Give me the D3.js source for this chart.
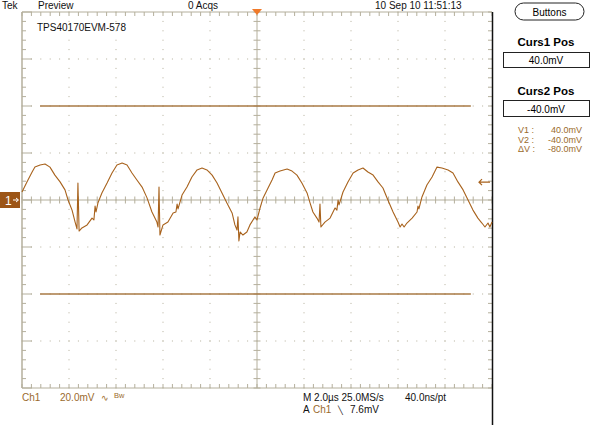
<!DOCTYPE html>
<html><head><meta charset="utf-8">
<script src="https://cdn.jsdelivr.net/npm/d3@7"></script>
<style>
html,body{margin:0;padding:0;background:#fff;}
svg{display:block;font-family:"Liberation Sans",Arial,sans-serif;}
</style></head>
<body>
<svg id="c" width="599" height="425"></svg>
<script>
// ---- data ----
const timeDivisions = [0, 2, 4, 6, 8, 10, 12, 14, 16, 18, 20];          // µs
const voltDivisions = [-80, -60, -40, -20, 0, 20, 40, 60, 80];          // mV
const cursorLevels = [40, -40];                                         // mV
const triggerLevel = 7.6;                                               // mV
const traceTime = [0.00,0.21,0.43,0.55,0.77,0.98,1.19,1.40,1.62,1.83,1.96,2.13,2.26,2.34,2.38,2.43,2.55,2.77,2.98,3.06,3.11,3.15,3.23,3.40,3.62,3.83,4.04,4.26,4.47,4.68,4.89,5.11,5.32,5.53,5.74,5.79,5.83,5.87,6.00,6.21,6.43,6.55,6.60,6.64,6.81,7.02,7.23,7.45,7.66,7.87,8.09,8.30,8.51,8.72,8.94,9.06,9.15,9.19,9.23,9.28,9.40,9.57,9.70,9.91,10.00,10.13,10.26,10.47,10.64,10.77,10.98,11.28,11.49,11.70,11.91,12.13,12.26,12.38,12.55,12.64,12.68,12.72,12.89,13.11,13.32,13.40,13.45,13.49,13.66,13.87,14.09,14.30,14.51,14.72,14.94,15.15,15.36,15.57,15.79,16.00,16.09,16.17,16.26,16.38,16.60,16.81,16.85,16.89,17.02,17.23,17.45,17.66,17.87,18.13,18.34,18.55,18.77,18.98,19.19,19.40,19.57,19.70,19.83,19.91,20.00];
const traceVolt = [3.4,7.7,11.9,14.0,14.9,15.3,14.0,10.6,7.7,4.3,0,-4.3,-9.4,-12.3,7.2,-13.2,-11.9,-10.6,-7.7,-8.5,-2.6,-5.1,-1.3,3.0,7.2,11.5,14.9,15.7,14.9,11.5,8.5,5.5,0.9,-5.1,-9.4,-11.5,5.5,-14.9,-10.6,-9.4,-5.5,-5.1,-1.7,-3.8,2.1,5.5,9.8,12.8,13.6,12.8,10.6,7.2,3.0,-1.3,-5.5,-10.6,-12.8,-7.2,-17.4,-13.6,-14.9,-13.6,-10.6,-7.2,-8.5,-3.4,0.9,5.1,8.5,11.5,12.3,13.2,12.3,10.6,7.2,3.0,-1.3,-5.1,-7.7,-9.4,-1.7,-11.5,-9.4,-7.7,-3.4,-4.3,0,-2.1,3.4,7.7,11.5,12.8,13.6,11.9,10.6,7.7,5.1,0,-5.1,-9.4,-11.5,-10.2,-11.5,-9.8,-7.7,-5.1,-2.6,-3.8,1.3,6.4,9.8,14.0,13.6,12.8,11.5,7.7,4.3,0,-4.3,-7.7,-9.8,-11.5,-9.8,-11.5,-9.4];

const svg = d3.select("#c");
const x = d3.scaleLinear().domain([0, 20]).range([22, 492]);
const y = d3.scaleLinear().domain([-80, 80]).range([388, 12]);
const GR = "#b4af9c", BR = "#a8621c", TXT = "#9a6a2c";

const g = svg.append("g");
const minorT = d3.range(0, 20.001, 0.4);
const minorV = d3.range(-80, 80.001, 4);

// dotted grid
timeDivisions.slice(1, -1).forEach(t => {
  if (t === 10) return;
  g.selectAll(null).data(minorV).join("rect")
    .attr("x", x(t) - 0.5).attr("y", d => y(d) - 0.5).attr("width", 1).attr("height", 1).attr("fill", GR);
});
voltDivisions.slice(1, -1).forEach(v => {
  if (v === 0) return;
  g.selectAll(null).data(minorT).join("rect")
    .attr("x", d => x(d) - 0.5).attr("y", y(v) - 0.5).attr("width", 1).attr("height", 1).attr("fill", GR);
});
// center axes
g.append("line").attr("x1", x(0)).attr("x2", x(20)).attr("y1", y(0)).attr("y2", y(0)).attr("stroke", GR);
g.append("line").attr("x1", x(10)).attr("x2", x(10)).attr("y1", y(80)).attr("y2", y(-80)).attr("stroke", GR);
g.selectAll(null).data(minorT).join("line")
  .attr("x1", d => x(d)).attr("x2", d => x(d)).attr("y1", y(0) - 3.5).attr("y2", y(0) + 3.5).attr("stroke", GR);
g.selectAll(null).data(minorV).join("line")
  .attr("x1", x(10) - 3.5).attr("x2", x(10) + 3.5).attr("y1", d => y(d)).attr("y2", d => y(d)).attr("stroke", GR);
// border
g.append("line").attr("x1", x(0)).attr("x2", x(20)).attr("y1", y(80)).attr("y2", y(80)).attr("stroke", GR);
g.append("line").attr("x1", x(0)).attr("x2", x(20)).attr("y1", y(-80)).attr("y2", y(-80)).attr("stroke", GR);
g.append("line").attr("x1", x(0)).attr("x2", x(0)).attr("y1", y(80)).attr("y2", y(-80)).attr("stroke", GR).attr("stroke-width", 1.5);
// border ticks
g.selectAll(null).data(minorT).join("line")
  .attr("x1", d => x(d)).attr("x2", d => x(d)).attr("y1", y(80)).attr("y2", y(80) + 4).attr("stroke", GR);
g.selectAll(null).data(minorT).join("line")
  .attr("x1", d => x(d)).attr("x2", d => x(d)).attr("y1", y(-80)).attr("y2", y(-80) - 4).attr("stroke", GR);
g.selectAll(null).data(minorV).join("line")
  .attr("x1", x(0)).attr("x2", d => x(0) + (d % 20 === 0 ? 10 : 4)).attr("y1", d => y(d)).attr("y2", d => y(d)).attr("stroke", GR);
g.selectAll(null).data(minorV).join("line")
  .attr("x1", x(20)).attr("x2", x(20) - 4).attr("y1", d => y(d)).attr("y2", d => y(d)).attr("stroke", GR);
// right black frame
svg.append("line").attr("x1", x(20) + 0.5).attr("x2", x(20) + 0.5).attr("y1", y(80)).attr("y2", 425).attr("stroke", "#111").attr("stroke-width", 1.5);

// cursors
svg.selectAll(null).data(cursorLevels).join("line")
  .attr("x1", x(0.77)).attr("x2", x(19.1)).attr("y1", d => y(d)).attr("y2", d => y(d))
  .attr("stroke", "#a87a45").attr("stroke-width", 1.5);

// trace
const pts = traceTime.map((t, i) => [t, traceVolt[i]]);
svg.append("path").datum(pts)
  .attr("d", d3.line().x(d => x(d[0])).y(d => y(d[1])))
  .attr("fill", "none").attr("stroke", BR).attr("stroke-width", 1.1).attr("stroke-linejoin", "round");

// channel marker
svg.append("rect").attr("x", 0).attr("y", y(0) - 8).attr("width", 20).attr("height", 16).attr("fill", "#9c5516");
svg.append("text").attr("x", 5).attr("y", y(0) + 4.5).attr("fill", "#fff").attr("font-size", 12).text("1");
svg.append("path").attr("d", `M13,${y(0)} L18,${y(0)} M16,${y(0)-2} L18.5,${y(0)} L16,${y(0)+2}`).attr("stroke", "#fff").attr("fill", "none");
// trigger level arrow
const ty = y(triggerLevel);
svg.append("path").attr("d", `M479,${ty} L490,${ty} M482,${ty-3} L479,${ty} L482,${ty+3}`).attr("stroke", BR).attr("stroke-width", 1.2).attr("fill", "none");
// trigger position marker
svg.append("path").attr("d", `M${x(10)-5},${y(80)-3} L${x(10)+5},${y(80)-3} L${x(10)},${y(80)+3} Z`).attr("fill", "#f07a2a");

// top texts
const hdr = svg.append("g").attr("font-size", 10).attr("fill", "#111");
hdr.append("text").attr("x", 2).attr("y", 9).text("Tek");
hdr.append("text").attr("x", 38).attr("y", 9).text("Preview");
hdr.append("text").attr("x", 188).attr("y", 9).text("0 Acqs");
hdr.append("text").attr("x", 375).attr("y", 9).text("10 Sep 10 11:51:13");
hdr.append("text").attr("x", 37).attr("y", 31).text("TPS40170EVM-578");
// Buttons pill
svg.append("rect").attr("x", 515).attr("y", 3).attr("width", 69).attr("height", 17).attr("rx", 8.5).attr("fill", "#fff").attr("stroke", "#222");
svg.append("text").attr("x", 549.5).attr("y", 15.5).attr("text-anchor", "middle").attr("font-size", 10).text("Buttons");

// right panel
const rp = svg.append("g");
rp.append("text").attr("x", 546).attr("y", 46).attr("text-anchor", "middle").attr("font-size", 11.5).attr("font-weight", "bold").text("Curs1 Pos");
rp.append("rect").attr("x", 503.5).attr("y", 52.5).attr("width", 86).attr("height", 15).attr("fill", "none").attr("stroke", "#222");
rp.append("text").attr("x", 546).attr("y", 64).attr("text-anchor", "middle").attr("font-size", 10).text("40.0mV");
rp.append("text").attr("x", 546).attr("y", 95).attr("text-anchor", "middle").attr("font-size", 11.5).attr("font-weight", "bold").text("Curs2 Pos");
rp.append("rect").attr("x", 503.5).attr("y", 100.5).attr("width", 86).attr("height", 16).attr("fill", "none").attr("stroke", "#222");
rp.append("text").attr("x", 546).attr("y", 112.5).attr("text-anchor", "middle").attr("font-size", 10).text("-40.0mV");
const rows = [["V1 :", "40.0mV"], ["V2 :", "-40.0mV"], ["\u0394V :", "-80.0mV"]];
rows.forEach((r, i) => {
  rp.append("text").attr("x", 518).attr("y", 133 + i * 9.5).attr("font-size", 9).attr("fill", TXT).text(r[0]);
  rp.append("text").attr("x", 582).attr("y", 133 + i * 9.5).attr("text-anchor", "end").attr("font-size", 9).attr("fill", TXT).text(r[1]);
});

// bottom texts
const bt = svg.append("g").attr("font-size", 10);
bt.append("text").attr("x", 22).attr("y", 401).attr("fill", TXT).text("Ch1");
bt.append("text").attr("x", 60).attr("y", 401).attr("fill", TXT).text("20.0mV");
bt.append("text").attr("x", 101).attr("y", 401).attr("fill", TXT).attr("font-size", 9).text("\u223F");
bt.append("text").attr("x", 114).attr("y", 398).attr("fill", TXT).attr("font-size", 7.5).text("Bw");
bt.append("text").attr("x", 303).attr("y", 401).attr("fill", "#111").text("M 2.0\u00B5s 25.0MS/s");
bt.append("text").attr("x", 405).attr("y", 401).attr("fill", "#111").text("40.0ns/pt");
bt.append("text").attr("x", 303).attr("y", 413).attr("fill", "#111").text("A");
bt.append("text").attr("x", 313).attr("y", 413).attr("fill", TXT).text("Ch1");
bt.append("text").attr("x", 338).attr("y", 413).attr("fill", "#111").attr("font-size", 8).text("\u2572");
bt.append("text").attr("x", 350).attr("y", 413).attr("fill", "#111").text("7.6mV");
</script>
</body></html>
